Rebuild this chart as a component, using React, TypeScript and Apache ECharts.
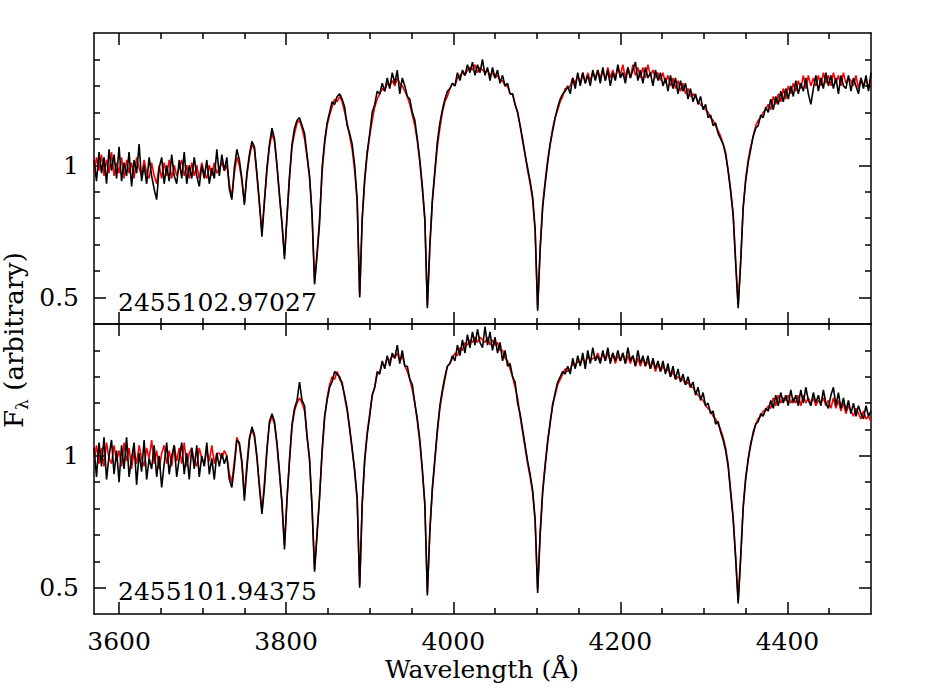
import React, { useEffect, useRef } from "react";
import * as echarts from "echarts";

// Spectrum sampling (Angstrom)
const WAVE_START = 3570;
const WAVE_STEP = 3;
const X_MIN = 3570;
const X_MAX = 4500;
const Y_MIN = 0.4;
const Y_MAX = 1.5;

const X_MAJOR = [3600, 3800, 4000, 4200, 4400];
const X_MINOR = [3650, 3700, 3750, 3850, 3900, 3950, 4050, 4100, 4150, 4250, 4300, 4350, 4450];
const Y_MAJOR = [0.5, 1];
const Y_MINOR = [0.6, 0.7, 0.8, 0.9, 1.1, 1.2, 1.3, 1.4];

const PANEL_LABELS = ["2455102.97027", "2455101.94375"];
const X_TITLE = "Wavelength (Å)";

// Top panel, observed (black). 10 values per row = 30 Angstrom per row, starting 3570
const TOP_BLACK = [
  1.02, 0.94, 1.05, 0.97, 1.03, 0.93, 1.06, 0.98, 1.04, 0.95,
  1.07, 0.94, 1.01, 0.96, 1.05, 0.92, 1.02, 0.97, 1.08, 0.94,
  1.00, 0.93, 1.03, 0.96, 0.91, 0.87, 0.99, 1.03, 0.93, 1.00,
  0.94, 1.04, 0.96, 0.93, 1.02, 0.95, 1.05, 0.93, 1.00, 0.95,
  1.03, 0.96, 0.92, 1.00, 0.95, 1.02, 0.93, 0.99, 0.95, 1.06,
  0.96, 1.04, 0.98, 1.03, 0.91, 0.87, 0.99, 1.06, 1.02, 0.95,
  0.85, 0.97, 1.04, 1.09, 1.07, 0.97, 0.86, 0.73, 0.86, 0.99,
  1.08, 1.14, 1.10, 1.00, 0.89, 0.78, 0.645, 0.81, 0.96, 1.08,
  1.14, 1.17, 1.18, 1.15, 1.12, 1.04, 0.96, 0.81, 0.55, 0.66,
  0.78, 0.99, 1.09, 1.16, 1.20, 1.24, 1.23, 1.26, 1.27, 1.25,
  1.22, 1.15, 1.12, 1.08, 1.00, 0.87, 0.50, 0.80, 0.95, 1.05,
  1.12, 1.20, 1.23, 1.28, 1.27, 1.31, 1.28, 1.33, 1.29, 1.35,
  1.31, 1.36, 1.27, 1.33, 1.30, 1.26, 1.25, 1.20, 1.17, 1.10,
  1.02, 0.92, 0.80, 0.46, 0.70, 0.87, 0.98, 1.09, 1.16, 1.21,
  1.25, 1.28, 1.29, 1.31, 1.30, 1.35, 1.32, 1.36, 1.34, 1.38,
  1.35, 1.39, 1.34, 1.38, 1.35, 1.40, 1.34, 1.37, 1.32, 1.37,
  1.33, 1.36, 1.31, 1.34, 1.30, 1.31, 1.27, 1.27, 1.23, 1.20,
  1.15, 1.10, 1.04, 0.99, 0.94, 0.88, 0.76, 0.45, 0.68, 0.84,
  0.93, 1.01, 1.08, 1.13, 1.18, 1.22, 1.25, 1.27, 1.28, 1.30,
  1.27, 1.33, 1.29, 1.35, 1.30, 1.35, 1.31, 1.34, 1.30, 1.36,
  1.32, 1.36, 1.31, 1.37, 1.32, 1.36, 1.30, 1.35, 1.32, 1.38,
  1.33, 1.35, 1.31, 1.37, 1.33, 1.36, 1.39, 1.32, 1.36, 1.31,
  1.37, 1.33, 1.35, 1.30, 1.36, 1.32, 1.35, 1.30, 1.33, 1.28,
  1.34, 1.29, 1.33, 1.27, 1.32, 1.28, 1.31, 1.25, 1.29, 1.24,
  1.27, 1.23, 1.26, 1.21, 1.23, 1.18, 1.19, 1.15, 1.16, 1.12,
  1.10, 1.08, 1.04, 0.98, 0.90, 0.81, 0.63, 0.46, 0.63, 0.84,
  0.94, 1.01, 1.06, 1.11, 1.14, 1.15, 1.19, 1.18, 1.22, 1.20,
  1.25, 1.21, 1.26, 1.23, 1.28, 1.24, 1.29, 1.25, 1.30, 1.26,
  1.32, 1.27, 1.31, 1.28, 1.33, 1.27, 1.23, 1.29, 1.34, 1.28,
  1.33, 1.29, 1.35, 1.30, 1.34, 1.29, 1.33, 1.27, 1.34, 1.30,
  1.29, 1.34, 1.28, 1.33, 1.30, 1.27, 1.33, 1.29, 1.34, 1.28,
  1.35,
];

// Top panel, comparison (red)
const TOP_RED = [
  0.97, 1.03, 0.98, 1.04, 0.96, 1.02, 0.97, 1.05, 0.96, 1.01,
  0.97, 1.03, 0.95, 1.02, 0.97, 1.01, 0.95, 1.03, 0.99, 0.96,
  1.02, 0.97, 0.95, 1.01, 0.96, 0.93, 1.00, 0.95, 1.01, 0.96,
  1.02, 0.95, 1.00, 0.96, 0.99, 1.02, 0.96, 1.00, 0.95, 1.01,
  0.96, 1.00, 0.95, 1.01, 0.97, 0.95, 1.00, 0.96, 1.01, 0.97,
  0.99, 1.01, 0.98, 1.00, 0.93, 0.88, 0.97, 1.03, 1.00, 0.94,
  0.86, 0.96, 1.03, 1.08, 1.06, 0.96, 0.85, 0.75, 0.87, 0.98,
  1.07, 1.12, 1.09, 1.00, 0.88, 0.78, 0.66, 0.80, 0.95, 1.07,
  1.12, 1.16, 1.17, 1.14, 1.10, 1.03, 0.95, 0.82, 0.56, 0.67,
  0.80, 0.97, 1.08, 1.15, 1.19, 1.22, 1.25, 1.24, 1.26, 1.24,
  1.20, 1.16, 1.11, 1.06, 0.98, 0.86, 0.51, 0.79, 0.94, 1.04,
  1.11, 1.17, 1.22, 1.25, 1.27, 1.29, 1.28, 1.31, 1.30, 1.32,
  1.30, 1.33, 1.31, 1.30, 1.28, 1.26, 1.23, 1.19, 1.15, 1.09,
  1.01, 0.91, 0.79, 0.47, 0.69, 0.86, 0.97, 1.07, 1.14, 1.20,
  1.24, 1.26, 1.29, 1.31, 1.30, 1.33, 1.34, 1.35, 1.34, 1.36,
  1.37, 1.36, 1.38, 1.35, 1.37, 1.36, 1.35, 1.36, 1.34, 1.35,
  1.33, 1.34, 1.32, 1.32, 1.30, 1.30, 1.27, 1.27, 1.23, 1.20,
  1.15, 1.09, 1.04, 0.98, 0.93, 0.87, 0.75, 0.46, 0.69, 0.85,
  0.94, 1.02, 1.08, 1.14, 1.18, 1.21, 1.24, 1.26, 1.29, 1.29,
  1.30, 1.33, 1.31, 1.34, 1.31, 1.35, 1.31, 1.35, 1.32, 1.35,
  1.33, 1.36, 1.33, 1.36, 1.32, 1.37, 1.33, 1.36, 1.33, 1.37,
  1.34, 1.38, 1.33, 1.37, 1.33, 1.38, 1.34, 1.37, 1.33, 1.37,
  1.33, 1.38, 1.34, 1.36, 1.33, 1.35, 1.32, 1.35, 1.31, 1.34,
  1.30, 1.33, 1.29, 1.32, 1.28, 1.31, 1.27, 1.29, 1.26, 1.27,
  1.26, 1.24, 1.23, 1.22, 1.21, 1.20, 1.18, 1.17, 1.15, 1.13,
  1.11, 1.08, 1.05, 0.98, 0.91, 0.82, 0.64, 0.47, 0.64, 0.84,
  0.95, 1.02, 1.07, 1.11, 1.15, 1.17, 1.18, 1.20, 1.21, 1.23,
  1.21, 1.26, 1.23, 1.27, 1.24, 1.29, 1.25, 1.30, 1.27, 1.31,
  1.28, 1.32, 1.29, 1.34, 1.29, 1.34, 1.30, 1.33, 1.30, 1.34,
  1.30, 1.35, 1.31, 1.34, 1.30, 1.35, 1.31, 1.34, 1.30, 1.35,
  1.31, 1.33, 1.32, 1.30, 1.34, 1.29, 1.33, 1.30, 1.33, 1.29,
  1.32,
];

// Bottom panel, observed (black)
const BOTTOM_BLACK = [
  1.03, 0.92, 1.05, 0.96, 1.07, 0.91, 1.00, 1.06, 0.93, 1.02,
  0.90, 1.04, 0.95, 1.07, 0.92, 0.99, 1.05, 0.89, 1.01, 0.94,
  1.06, 0.91, 0.99, 0.95, 1.04, 0.92, 1.00, 0.88, 0.97, 1.05,
  0.93, 1.00, 1.04, 0.92, 0.99, 1.05, 0.93, 1.01, 0.91, 1.03,
  0.95, 1.04, 0.92, 1.00, 0.96, 1.05, 0.93, 0.99, 0.91, 1.01,
  0.96, 1.01, 0.97, 1.00, 0.91, 0.88, 0.96, 1.06, 1.05, 0.98,
  0.83, 0.95, 1.06, 1.11, 1.08, 1.00, 0.88, 0.78, 0.88, 1.02,
  1.13, 1.16, 1.13, 1.05, 0.94, 0.82, 0.645, 0.84, 0.98, 1.12,
  1.18, 1.21, 1.28, 1.21, 1.19, 1.07, 0.99, 0.80, 0.56, 0.70,
  0.84, 1.02, 1.15, 1.21, 1.26, 1.28, 1.32, 1.31, 1.30, 1.27,
  1.23, 1.18, 1.10, 1.03, 0.94, 0.84, 0.50, 0.82, 0.98, 1.08,
  1.15, 1.23, 1.26, 1.32, 1.31, 1.36, 1.33, 1.38, 1.34, 1.39,
  1.37, 1.42, 1.35, 1.40, 1.34, 1.34, 1.29, 1.27, 1.20, 1.14,
  1.06, 0.95, 0.82, 0.47, 0.72, 0.88, 0.99, 1.10, 1.19, 1.25,
  1.30, 1.34, 1.35, 1.38, 1.36, 1.42, 1.38, 1.44, 1.39, 1.46,
  1.41, 1.47, 1.42, 1.48, 1.43, 1.41, 1.49, 1.42, 1.47, 1.40,
  1.45, 1.39, 1.43, 1.36, 1.40, 1.34, 1.35, 1.30, 1.28, 1.20,
  1.16, 1.10, 1.04, 0.98, 0.93, 0.87, 0.76, 0.48, 0.70, 0.86,
  0.96, 1.05, 1.13, 1.19, 1.24, 1.28, 1.30, 1.32, 1.31, 1.34,
  1.31, 1.37, 1.33, 1.38, 1.34, 1.39, 1.33, 1.40, 1.35, 1.41,
  1.36, 1.38, 1.35, 1.40, 1.36, 1.41, 1.35, 1.39, 1.36, 1.40,
  1.36, 1.39, 1.35, 1.41, 1.36, 1.38, 1.34, 1.40, 1.35, 1.38,
  1.34, 1.38, 1.33, 1.37, 1.33, 1.36, 1.32, 1.36, 1.31, 1.35,
  1.30, 1.34, 1.29, 1.33, 1.28, 1.31, 1.27, 1.30, 1.26, 1.28,
  1.23, 1.26, 1.21, 1.24, 1.19, 1.20, 1.16, 1.17, 1.12, 1.13,
  1.09, 1.06, 1.02, 0.96, 0.86, 0.76, 0.61, 0.44, 0.61, 0.80,
  0.91, 0.99, 1.04, 1.09, 1.12, 1.13, 1.16, 1.15, 1.18, 1.17,
  1.21, 1.18, 1.23, 1.19, 1.24, 1.20, 1.23, 1.19, 1.25, 1.20,
  1.23, 1.19, 1.25, 1.20, 1.26, 1.21, 1.19, 1.24, 1.20, 1.23,
  1.19, 1.25, 1.20, 1.18, 1.23, 1.26, 1.19, 1.24, 1.18, 1.22,
  1.17, 1.21, 1.16, 1.20, 1.15, 1.19, 1.16, 1.14, 1.19, 1.15,
  1.17,
];

// Bottom panel, comparison (red)
const BOTTOM_RED = [
  0.98, 1.04, 0.97, 1.03, 0.96, 1.05, 0.99, 0.97, 1.04, 0.98,
  1.02, 0.96, 1.05, 0.98, 1.03, 0.95, 1.02, 0.97, 1.04, 0.99,
  0.96, 1.03, 0.99, 1.06, 0.97, 1.02, 0.95, 1.01, 1.04, 0.97,
  1.02, 0.96, 1.04, 0.98, 1.03, 0.97, 1.05, 0.96, 1.01, 1.03,
  0.98, 0.96, 1.03, 0.99, 0.97, 1.02, 0.98, 1.04, 0.97, 1.01,
  1.01, 0.99, 1.02, 1.00, 0.93, 0.90, 0.98, 1.07, 1.04, 0.97,
  0.85, 0.97, 1.07, 1.10, 1.07, 0.99, 0.89, 0.79, 0.90, 1.03,
  1.12, 1.15, 1.12, 1.04, 0.93, 0.82, 0.66, 0.83, 0.99, 1.11,
  1.17, 1.20, 1.22, 1.20, 1.17, 1.08, 0.98, 0.81, 0.57, 0.71,
  0.85, 1.01, 1.14, 1.22, 1.27, 1.30, 1.29, 1.32, 1.29, 1.28,
  1.22, 1.17, 1.11, 1.02, 0.95, 0.83, 0.51, 0.81, 0.99, 1.09,
  1.16, 1.23, 1.26, 1.31, 1.32, 1.35, 1.34, 1.37, 1.36, 1.38,
  1.37, 1.39, 1.36, 1.38, 1.34, 1.32, 1.29, 1.25, 1.20, 1.13,
  1.05, 0.94, 0.81, 0.48, 0.71, 0.87, 0.98, 1.09, 1.18, 1.24,
  1.29, 1.34, 1.35, 1.37, 1.39, 1.38, 1.41, 1.40, 1.43, 1.42,
  1.44, 1.43, 1.45, 1.43, 1.45, 1.44, 1.43, 1.45, 1.42, 1.44,
  1.42, 1.43, 1.40, 1.40, 1.37, 1.36, 1.33, 1.30, 1.26, 1.22,
  1.15, 1.09, 1.03, 0.97, 0.92, 0.86, 0.75, 0.49, 0.71, 0.87,
  0.97, 1.06, 1.12, 1.20, 1.23, 1.27, 1.29, 1.31, 1.33, 1.32,
  1.33, 1.35, 1.34, 1.36, 1.35, 1.37, 1.35, 1.38, 1.36, 1.37,
  1.37, 1.39, 1.36, 1.39, 1.36, 1.39, 1.36, 1.39, 1.35, 1.38,
  1.36, 1.39, 1.35, 1.38, 1.35, 1.38, 1.34, 1.37, 1.34, 1.37,
  1.34, 1.36, 1.33, 1.36, 1.32, 1.35, 1.32, 1.34, 1.32, 1.33,
  1.30, 1.32, 1.29, 1.30, 1.29, 1.29, 1.27, 1.28, 1.26, 1.26,
  1.24, 1.23, 1.22, 1.21, 1.19, 1.18, 1.17, 1.15, 1.14, 1.12,
  1.10, 1.07, 1.03, 0.97, 0.87, 0.77, 0.62, 0.45, 0.62, 0.81,
  0.92, 0.98, 1.05, 1.08, 1.12, 1.14, 1.15, 1.17, 1.17, 1.19,
  1.18, 1.22, 1.19, 1.23, 1.20, 1.22, 1.21, 1.23, 1.20, 1.22,
  1.20, 1.23, 1.19, 1.23, 1.20, 1.22, 1.20, 1.22, 1.19, 1.21,
  1.20, 1.22, 1.19, 1.21, 1.18, 1.22, 1.18, 1.21, 1.17, 1.20,
  1.16, 1.19, 1.17, 1.15, 1.18, 1.16, 1.14, 1.17, 1.14, 1.15,
  1.13,
];

const FONT = "DejaVu Serif";
const INK = "#000";

const toPairs = (vals: number[]) => vals.map((v, i) => [WAVE_START + i * WAVE_STEP, v]);

function xAxis(gridIndex: number, position: "top" | "bottom", ticks: number[], len: number, line: boolean, labels: boolean) {
  return {
    type: "value",
    gridIndex,
    position,
    min: X_MIN,
    max: X_MAX,
    axisLine: { show: line, onZero: false, lineStyle: { color: INK, width: 1.5 } },
    axisTick: { show: true, inside: true, length: len, customValues: ticks, lineStyle: { color: INK, width: 1.5 } },
    axisLabel: labels
      ? {
          show: true,
          customValues: X_MAJOR,
          margin: 15,
          color: INK,
          fontSize: 25,
          fontFamily: FONT,
          formatter: (v: number) => String(Math.round(v)),
        }
      : { show: false },
    splitLine: { show: false },
  };
}

function yAxis(gridIndex: number, position: "left" | "right", ticks: number[], len: number, line: boolean, labels: boolean) {
  return {
    type: "value",
    gridIndex,
    position,
    min: Y_MIN,
    max: Y_MAX,
    axisLine: { show: line, onZero: false, lineStyle: { color: INK, width: 1.5 } },
    axisTick: { show: true, inside: true, length: len, customValues: ticks, lineStyle: { color: INK, width: 1.5 } },
    axisLabel: labels
      ? {
          show: true,
          customValues: Y_MAJOR,
          margin: 15,
          color: INK,
          fontSize: 25,
          fontFamily: FONT,
          formatter: (v: number) => String(v),
        }
      : { show: false },
    splitLine: { show: false },
  };
}

export default function App() {
  const ref = useRef<HTMLDivElement>(null);

  useEffect(() => {
    if (!ref.current) return;
    const chart = echarts.init(ref.current, null, { renderer: "svg" });

    const xAxes: any[] = [];
    const yAxes: any[] = [];
    for (let g = 0; g < 2; g++) {
      xAxes.push(xAxis(g, "bottom", X_MAJOR, 12, true, g === 1));
      xAxes.push(xAxis(g, "bottom", X_MINOR, 6, false, false));
      xAxes.push(xAxis(g, "top", X_MAJOR, 12, true, false));
      xAxes.push(xAxis(g, "top", X_MINOR, 6, false, false));
      yAxes.push(yAxis(g, "left", Y_MAJOR, 12, true, true));
      yAxes.push(yAxis(g, "left", Y_MINOR, 6, false, false));
      yAxes.push(yAxis(g, "right", Y_MAJOR, 12, true, false));
      yAxes.push(yAxis(g, "right", Y_MINOR, 6, false, false));
    }

    const line = (name: string, vals: number[], g: number, color: string, z: number) => ({
      name,
      type: "line",
      xAxisIndex: g * 4,
      yAxisIndex: g * 4,
      data: toPairs(vals),
      showSymbol: false,
      symbol: "none",
      clip: true,
      z,
      lineStyle: { color, width: 1.6 },
      emphasis: { disabled: true },
    });

    chart.setOption({
      animation: false,
      backgroundColor: "#fff",
      grid: [
        { left: 94, top: 33, width: 777, height: 291 },
        { left: 94, top: 324, width: 777, height: 290 },
      ],
      xAxis: xAxes,
      yAxis: yAxes,
      series: [
        line("top-red", TOP_RED, 0, "#ff0000", 2),
        line("top-black", TOP_BLACK, 0, "#000000", 3),
        line("bottom-red", BOTTOM_RED, 1, "#ff0000", 2),
        line("bottom-black", BOTTOM_BLACK, 1, "#000000", 3),
      ],
      graphic: [
        { type: "text", x: 118, y: 302, style: { text: PANEL_LABELS[0], fontSize: 25, fontFamily: FONT, fill: INK, verticalAlign: "middle", align: "left" } },
        { type: "text", x: 118, y: 591, style: { text: PANEL_LABELS[1], fontSize: 25, fontFamily: FONT, fill: INK, verticalAlign: "middle", align: "left" } },
        { type: "text", x: 482, y: 669, style: { text: X_TITLE, fontSize: 25, fontFamily: FONT, fill: INK, verticalAlign: "middle", align: "center" } },
        { type: "text", x: 14, y: 428, rotation: Math.PI / 2, style: { text: "F", fontSize: 26, fontFamily: FONT, fill: INK, verticalAlign: "middle", align: "left" } },
        { type: "text", x: 22, y: 410, rotation: Math.PI / 2, style: { text: "λ", fontSize: 17, fontFamily: FONT, fill: INK, verticalAlign: "middle", align: "left" } },
        { type: "text", x: 14, y: 399, rotation: Math.PI / 2, style: { text: " (arbitrary)", fontSize: 26, fontFamily: FONT, fill: INK, verticalAlign: "middle", align: "left" } },
      ],
    });

    return () => chart.dispose();
  }, []);

  return (
    <div
      ref={ref}
      style={{ position: "fixed", left: 0, top: 0, width: 926, height: 692, background: "#fff" }}
    />
  );
}
